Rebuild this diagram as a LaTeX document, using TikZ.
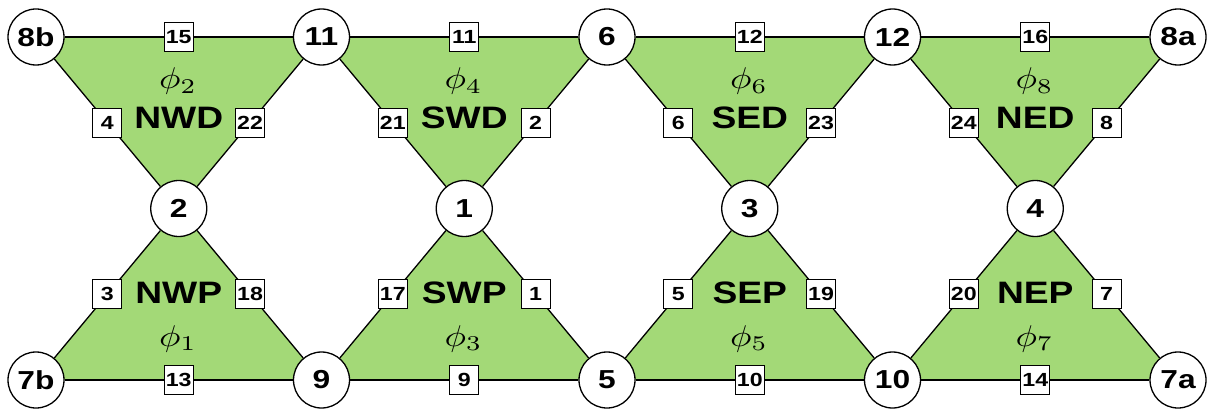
\documentclass[tikz,border=0pt]{standalone}
\usepackage{fontspec}
\usepackage{graphicx}
\setmainfont{Liberation Sans}
\usetikzlibrary{backgrounds}
\definecolor{trifill}{RGB}{163,217,119}
\newcommand{\hs}[1]{\scalebox{1.22}[1]{#1}}
\tikzset{
  vtx/.style={circle,draw=black,line width=1.3pt,fill=white,minimum size=56pt,inner sep=0pt,font=\fontsize{26}{29}\selectfont\bfseries},
  lbl/.style={rectangle,draw=black,line width=1.1pt,fill=white,minimum size=29pt,inner sep=0pt,font=\fontsize{19}{21}\selectfont\bfseries},
  edge/.style={draw=black,line width=1.3pt},
  tri/.style={fill=trifill},
  tname/.style={font=\fontsize{31}{34}\selectfont\bfseries,inner sep=0pt,xscale=1.2},
  phil/.style={inner sep=0pt,scale=3,xscale=1.2}
}
\begin{document}
\begin{tikzpicture}[x=1pt,y=-1pt]
\useasboundingbox (0,0) rectangle (1207,409);
% vertices
\node[vtx] (n8b) at (36,37) {\hs{8b}};
\node[vtx] (n11) at (321.5,37) {\hs{11}};
\node[vtx] (n6) at (607,37) {\hs{6}};
\node[vtx] (n12) at (892.5,37) {\hs{12}};
\node[vtx] (n8a) at (1178,37) {\hs{8a}};
\node[vtx] (n2) at (178.75,208.5) {\hs{2}};
\node[vtx] (n1) at (464.25,208.5) {\hs{1}};
\node[vtx] (n3) at (749.75,208.5) {\hs{3}};
\node[vtx] (n4) at (1035.25,208.5) {\hs{4}};
\node[vtx] (n7b) at (36,380) {\hs{7b}};
\node[vtx] (n9) at (321.5,380) {\hs{9}};
\node[vtx] (n5) at (607,380) {\hs{5}};
\node[vtx] (n10) at (892.5,380) {\hs{10}};
\node[vtx] (n7a) at (1178,380) {\hs{7a}};
\begin{scope}[on background layer]
  % triangle fills
  \fill[tri] (n8b.center) -- (n11.center) -- (n2.center) -- cycle;
  \fill[tri] (n11.center) -- (n6.center) -- (n1.center) -- cycle;
  \fill[tri] (n6.center) -- (n12.center) -- (n3.center) -- cycle;
  \fill[tri] (n12.center) -- (n8a.center) -- (n4.center) -- cycle;
  \fill[tri] (n7b.center) -- (n9.center) -- (n2.center) -- cycle;
  \fill[tri] (n9.center) -- (n5.center) -- (n1.center) -- cycle;
  \fill[tri] (n5.center) -- (n10.center) -- (n3.center) -- cycle;
  \fill[tri] (n10.center) -- (n7a.center) -- (n4.center) -- cycle;
  % top edges
  \path[edge] (n8b) -- node[lbl]{\hs{15}} (n11);
  \path[edge] (n11) -- node[lbl]{\hs{11}} (n6);
  \path[edge] (n6) -- node[lbl]{\hs{12}} (n12);
  \path[edge] (n12) -- node[lbl]{\hs{16}} (n8a);
  % upper sides
  \path[edge] (n8b) -- node[lbl]{\hs{4}} (n2);
  \path[edge] (n11) -- node[lbl]{\hs{22}} (n2);
  \path[edge] (n11) -- node[lbl]{\hs{21}} (n1);
  \path[edge] (n6) -- node[lbl]{\hs{2}} (n1);
  \path[edge] (n6) -- node[lbl]{\hs{6}} (n3);
  \path[edge] (n12) -- node[lbl]{\hs{23}} (n3);
  \path[edge] (n12) -- node[lbl]{\hs{24}} (n4);
  \path[edge] (n8a) -- node[lbl]{\hs{8}} (n4);
  % lower sides
  \path[edge] (n7b) -- node[lbl]{\hs{3}} (n2);
  \path[edge] (n9) -- node[lbl]{\hs{18}} (n2);
  \path[edge] (n9) -- node[lbl]{\hs{17}} (n1);
  \path[edge] (n5) -- node[lbl]{\hs{1}} (n1);
  \path[edge] (n5) -- node[lbl]{\hs{5}} (n3);
  \path[edge] (n10) -- node[lbl]{\hs{19}} (n3);
  \path[edge] (n10) -- node[lbl]{\hs{20}} (n4);
  \path[edge] (n7a) -- node[lbl]{\hs{7}} (n4);
  % bottom edges
  \path[edge] (n7b) -- node[lbl]{\hs{13}} (n9);
  \path[edge] (n9) -- node[lbl]{\hs{9}} (n5);
  \path[edge] (n5) -- node[lbl]{\hs{10}} (n10);
  \path[edge] (n10) -- node[lbl]{\hs{14}} (n7a);
\end{scope}
% triangle names and phis
\node[phil] (p2) at (178,81.5) {$\phi_2$};
\node[tname] (t2) at (178.75,118) {NWD};
\node[phil] (p4) at (463.5,81.5) {$\phi_4$};
\node[tname] (t4) at (464.25,118) {SWD};
\node[phil] (p6) at (749,81.5) {$\phi_6$};
\node[tname] (t6) at (749.75,118) {SED};
\node[phil] (p8) at (1034.5,81.5) {$\phi_8$};
\node[tname] (t8) at (1035.25,118) {NED};
\node[tname] (t1) at (178.75,293) {NWP};
\node[phil] (p1) at (178,338.5) {$\phi_1$};
\node[tname] (t3) at (464.25,293) {SWP};
\node[phil] (p3) at (463.5,338.5) {$\phi_3$};
\node[tname] (t5) at (749.75,293) {SEP};
\node[phil] (p5) at (749,338.5) {$\phi_5$};
\node[tname] (t7) at (1035.25,293) {NEP};
\node[phil] (p7) at (1034.5,338.5) {$\phi_7$};
\end{tikzpicture}
\end{document}
